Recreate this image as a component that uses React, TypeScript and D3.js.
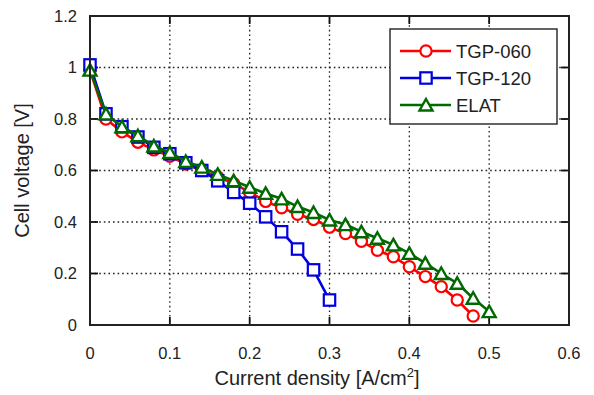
import React from 'react';
import * as d3 from 'd3';

// current density [A/cm2] for each measured point
const currentTGP060 = [0, 0.02, 0.04, 0.06, 0.08, 0.1, 0.12, 0.14, 0.16, 0.18, 0.2, 0.22, 0.24, 0.26, 0.28, 0.3, 0.32, 0.34, 0.36, 0.38, 0.4, 0.42, 0.44, 0.46, 0.48];
const voltageTGP060 = [0.99, 0.8, 0.75, 0.71, 0.68, 0.655, 0.625, 0.6, 0.575, 0.55, 0.515, 0.48, 0.455, 0.43, 0.41, 0.38, 0.355, 0.325, 0.29, 0.265, 0.226, 0.188, 0.149, 0.097, 0.035];

const currentTGP120 = [0, 0.02, 0.04, 0.06, 0.08, 0.1, 0.12, 0.14, 0.16, 0.18, 0.2, 0.22, 0.24, 0.26, 0.28, 0.3];
const voltageTGP120 = [1.01, 0.82, 0.77, 0.73, 0.69, 0.665, 0.63, 0.6, 0.56, 0.515, 0.473, 0.42, 0.362, 0.295, 0.214, 0.097];

const currentELAT = [0, 0.02, 0.04, 0.06, 0.08, 0.1, 0.12, 0.14, 0.16, 0.18, 0.2, 0.22, 0.24, 0.26, 0.28, 0.3, 0.32, 0.34, 0.36, 0.38, 0.4, 0.42, 0.44, 0.46, 0.48, 0.5];
const voltageELAT = [0.99, 0.82, 0.77, 0.735, 0.695, 0.67, 0.635, 0.613, 0.585, 0.56, 0.535, 0.511, 0.49, 0.46, 0.437, 0.408, 0.39, 0.362, 0.337, 0.311, 0.278, 0.24, 0.2, 0.162, 0.104, 0.052];

const xTicks = [0, 0.1, 0.2, 0.3, 0.4, 0.5, 0.6];
const yTicks = [0, 0.2, 0.4, 0.6, 0.8, 1, 1.2];

const series = [
  { name: 'TGP-060', color: '#ff0000', marker: 'circle', x: currentTGP060, y: voltageTGP060 },
  { name: 'TGP-120', color: '#0000e0', marker: 'square', x: currentTGP120, y: voltageTGP120 },
  { name: 'ELAT', color: '#006a00', marker: 'triangle', x: currentELAT, y: voltageELAT },
];

const width = 594;
const height = 395;
const margin = { top: 16, right: 25, bottom: 70, left: 90 };
const font = 'Arial, "Liberation Sans", Helvetica, sans-serif';

const Marker = ({ type, cx, cy, color }: { type: string; cx: number; cy: number; color: string }) => {
  if (type === 'circle') {
    return <circle cx={cx} cy={cy} r={5.6} fill="#fff" stroke={color} strokeWidth={2.2} />;
  }
  if (type === 'square') {
    return <rect x={cx - 5.7} y={cy - 5.7} width={11.4} height={11.4} fill="#fff" stroke={color} strokeWidth={2.2} />;
  }
  const h = 11;
  const w = 13;
  return (
    <path
      d={`M${cx},${cy - h / 2 - 0.5}L${cx + w / 2},${cy + h / 2}L${cx - w / 2},${cy + h / 2}Z`}
      fill="#fff"
      stroke={color}
      strokeWidth={2.4}
      strokeLinejoin="miter"
    />
  );
};

const App = () => {
  const innerWidth = width - margin.left - margin.right;
  const innerHeight = height - margin.top - margin.bottom;

  const xScale = d3.scaleLinear().domain([0, 0.6]).range([0, innerWidth]);
  const yScale = d3.scaleLinear().domain([0, 1.2]).range([innerHeight, 0]);

  const line = d3.line<[number, number]>()
    .x(d => xScale(d[0]))
    .y(d => yScale(d[1]));

  const tickLen = 8;
  const legend = { x: 300, y: 13, w: 167, h: 95 };

  return (
    <svg
      width={width}
      height={height}
      style={{ position: 'absolute', left: 0, top: 0, background: '#fff', fontFamily: font }}
    >
      <g transform={`translate(${margin.left}, ${margin.top})`}>
        {/* dotted grid */}
        {xTicks.slice(1, -1).map(t => (
          <line key={`gx-${t}`} x1={xScale(t)} x2={xScale(t)} y1={0} y2={innerHeight}
            stroke="#222" strokeWidth={1.3} strokeDasharray="1.6,3" />
        ))}
        {yTicks.slice(1, -1).map(t => (
          <line key={`gy-${t}`} x1={0} x2={innerWidth} y1={yScale(t)} y2={yScale(t)}
            stroke="#222" strokeWidth={1.3} strokeDasharray="1.6,3" />
        ))}

        {/* inward ticks on all four sides */}
        {xTicks.map(t => (
          <g key={`tx-${t}`}>
            <line x1={xScale(t)} x2={xScale(t)} y1={innerHeight} y2={innerHeight - tickLen} stroke="#111" strokeWidth={1.8} />
            <line x1={xScale(t)} x2={xScale(t)} y1={0} y2={tickLen} stroke="#111" strokeWidth={1.8} />
            <text x={xScale(t)} y={innerHeight + 34} textAnchor="middle" fontSize={16.5} fill="#222">{t}</text>
          </g>
        ))}
        {yTicks.map(t => (
          <g key={`ty-${t}`}>
            <line x1={0} x2={tickLen} y1={yScale(t)} y2={yScale(t)} stroke="#111" strokeWidth={1.8} />
            <line x1={innerWidth} x2={innerWidth - tickLen} y1={yScale(t)} y2={yScale(t)} stroke="#111" strokeWidth={1.8} />
            <text x={-13} y={yScale(t)} dy="0.36em" textAnchor="end" fontSize={16.5} fill="#222">{t}</text>
          </g>
        ))}

        {/* series */}
        {series.map(s => {
          const pts = s.x.map((x, i) => [x, s.y[i]] as [number, number]);
          return (
            <g key={s.name}>
              <path d={line(pts) ?? ''} fill="none" stroke={s.color} strokeWidth={2.6} />
              {pts.map((p, i) => (
                <Marker key={i} type={s.marker} cx={xScale(p[0])} cy={yScale(p[1])} color={s.color} />
              ))}
            </g>
          );
        })}

        {/* frame */}
        <rect x={0} y={0} width={innerWidth} height={innerHeight} fill="none" stroke="#222" strokeWidth={2} />

        {/* legend */}
        <g transform={`translate(${legend.x}, ${legend.y})`}>
          <rect x={0} y={0} width={legend.w} height={legend.h} fill="#fff" stroke="#222" strokeWidth={1.4} />
          {series.map((s, i) => {
            const cy = 22 + i * 27;
            return (
              <g key={s.name}>
                <line x1={10} x2={61} y1={cy} y2={cy} stroke={s.color} strokeWidth={2.6} />
                <Marker type={s.marker} cx={36} cy={cy} color={s.color} />
                <text x={66} y={cy} dy="0.36em" fontSize={18.5} fill="#222">{s.name}</text>
              </g>
            );
          })}
        </g>

        {/* axis titles */}
        <text x={227} y={innerHeight + 60} textAnchor="middle" fontSize={20} fill="#222">
          Current density [A/cm<tspan dy={-8} fontSize={13}>2</tspan><tspan dy={8}>]</tspan>
        </text>
        <text transform={`translate(-61, ${innerHeight / 2}) rotate(-90)`} textAnchor="middle" fontSize={20} fill="#222">
          Cell voltage [V]
        </text>
      </g>
    </svg>
  );
};

export default App;
